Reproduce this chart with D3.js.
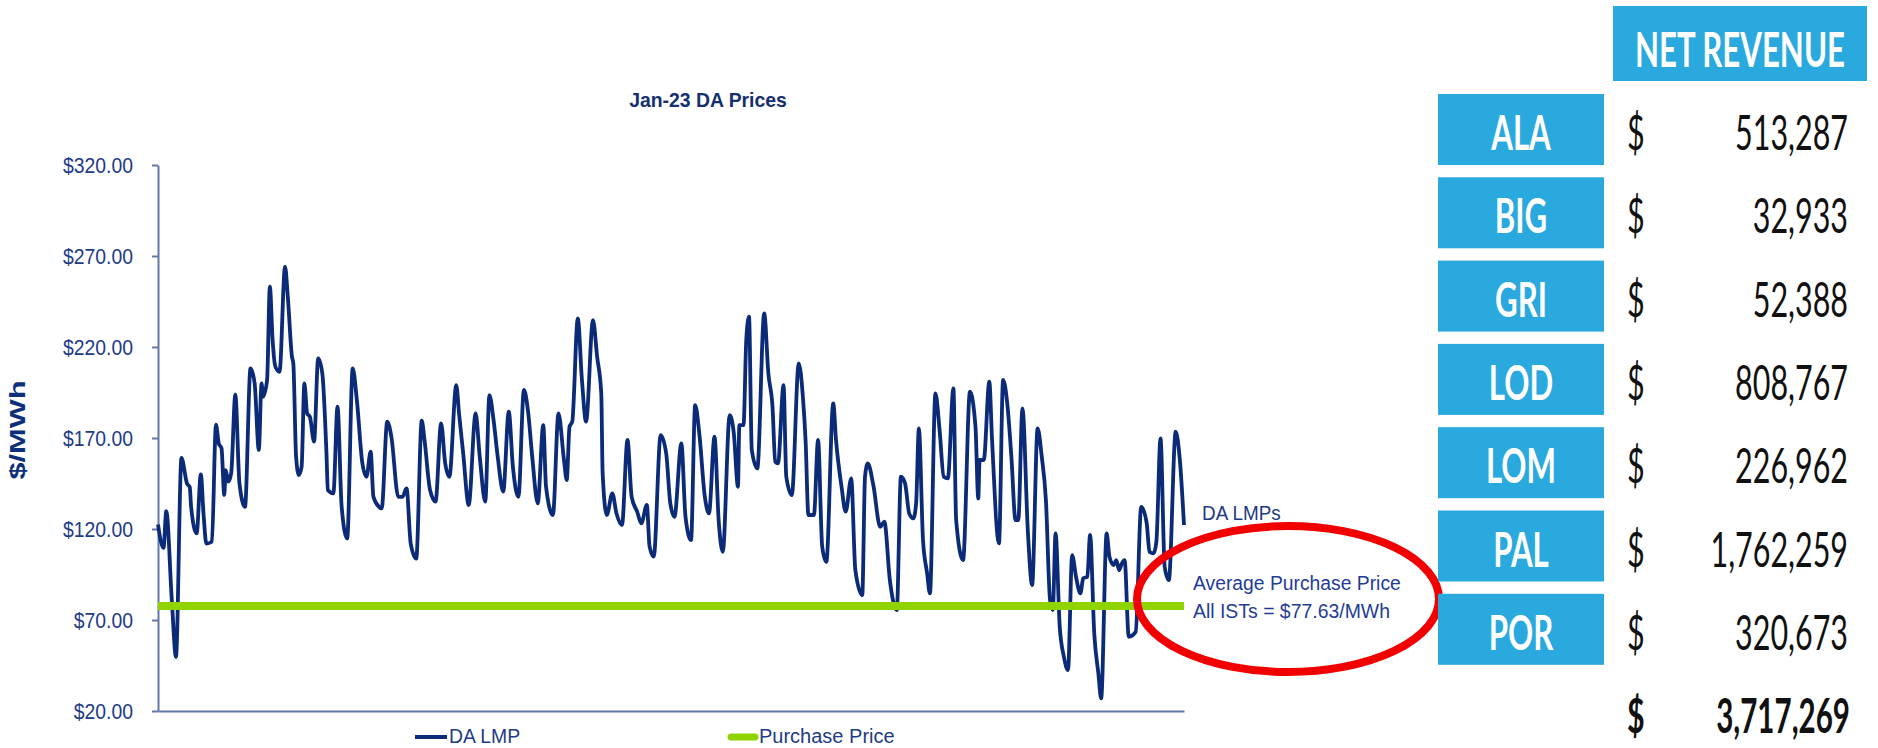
<!DOCTYPE html>
<html>
<head>
<meta charset="utf-8">
<script src="https://cdn.jsdelivr.net/npm/d3@7"></script>
<style>
  html, body { margin: 0; padding: 0; background: #ffffff; }
  svg { display: block; }
</style>
</head>
<body>
<svg id="chart" width="1878" height="748"></svg>
<script>
// Hour of the month (0 = Jan 1, 00:00) at each turning point of the day-ahead LMP trace
const hours = [
  0, 4, 6, 10, 13, 17, 21, 23, 24, 28, 31, 33, 35, 39, 42, 44, 46, 48, 49, 51,
  53, 56, 59, 63, 67, 70, 73, 75, 76, 79, 81, 83, 85, 88, 92, 94, 97, 98, 100, 102,
  104, 106, 108, 110, 113, 116, 119, 122, 123, 127, 130, 133, 137, 141, 144, 148, 151, 154, 156, 160,
  162, 166, 169, 174, 177, 180, 183, 187, 191, 193, 197, 201, 205, 208, 211, 216, 218, 221, 225, 230,
  233, 237, 240, 243, 246, 250, 254, 257, 261, 265, 268, 271, 275, 279, 281, 286, 290, 294, 296, 298,
  300, 304, 307, 310, 315, 318, 321, 322, 325, 329, 332, 336, 340, 343, 347, 350, 354, 356, 359, 364,
  368, 371, 374, 379, 382, 386, 389, 392, 396, 399, 403, 406, 409, 414, 417, 420, 421, 424, 426, 428,
  430, 434, 439, 442, 445, 447, 449, 453, 455, 459, 464, 467, 469, 471, 475, 478, 481, 484, 489, 491,
  495, 498, 502, 505, 510, 512, 514, 518, 523, 526, 530, 535, 538, 541, 544, 547, 549, 551, 554, 557,
  559, 563, 566, 569, 572, 576, 578, 583, 588, 592, 594, 595, 598, 602, 604, 609, 612, 615, 618, 621,
  623, 626, 630, 633, 637, 640, 643, 646, 648, 650, 653, 656, 659, 662, 665, 668, 670, 673, 675, 678,
  681, 683, 687, 689, 692, 694, 696, 698, 700, 703, 708, 712, 716, 718, 721, 723, 726, 729, 732, 737,
  740, 743
];

// DA LMP ($/MWh) at those hours
const daLmp = [
  122.5, 109.6, 129.8, 81.0, 49.8, 159.0, 145.0, 143.0, 132.0, 117.6, 150.0, 128.0, 112.0, 113.0, 177.4, 167.0, 164.3, 138.7, 152.4, 146.0,
  150.6, 193.8, 145.0, 132.2, 208.3, 200.0, 163.4, 200.0, 192.7, 201.9, 253.2, 223.8, 209.2, 206.4, 264.1, 247.7, 214.7, 211.0, 159.7, 149.6,
  154.2, 200.0, 183.5, 181.7, 168.0, 213.8, 205.5, 161.6, 141.4, 139.6, 187.2, 132.2, 114.8, 208.3, 190.9, 156.1, 148.7, 162.5, 137.7, 132.2,
  131.3, 179.0, 170.7, 137.7, 137.7, 142.3, 112.0, 103.8, 179.5, 168.9, 141.4, 135.0, 178.0, 156.0, 148.7, 199.1, 183.5, 161.6, 133.2, 183.5,
  159.7, 135.0, 193.6, 179.9, 159.7, 140.5, 184.5, 154.2, 137.7, 196.4, 184.5, 159.7, 134.1, 177.1, 143.2, 127.7, 183.5, 157.9, 146.9, 176.2,
  179.0, 235.7, 201.9, 179.0, 234.8, 214.7, 194.5, 150.6, 127.7, 139.6, 128.6, 122.2, 168.9, 137.7, 129.5, 123.1, 133.2, 110.3, 104.8, 171.6,
  161.6, 134.1, 126.7, 167.0, 126.7, 113.9, 188.1, 172.5, 137.7, 128.6, 170.7, 124.9, 107.5, 182.6, 172.5, 143.2, 177.1, 177.1, 223.8, 236.7,
  163.4, 153.3, 238.5, 205.5, 187.2, 157.0, 156.1, 199.1, 148.7, 138.6, 211.0, 192.7, 168.0, 127.7, 127.7, 168.9, 110.3, 102.0, 189.0, 168.9,
  143.2, 129.5, 147.8, 97.4, 83.7, 148.7, 156.1, 144.2, 121.2, 124.0, 91.9, 75.5, 148.7, 145.1, 128.6, 125.8, 134.1, 175.3, 113.9, 95.6,
  84.6, 194.5, 174.4, 148.7, 147.8, 197.3, 124.9, 102.9, 195.4, 176.2, 136.8, 157.9, 157.9, 201.0, 168.9, 112.1, 201.9, 189.0, 159.7, 124.9,
  124.9, 186.3, 117.6, 89.2, 175.3, 159.7, 135.9, 80.9, 75.5, 117.6, 66.3, 49.8, 42.5, 105.7, 92.9, 84.6, 92.9, 93.8, 116.7, 62.6,
  40.6, 26.9, 117.6, 104.8, 100.2, 102.9, 97.4, 101.1, 102.9, 60.8, 63.5, 132.2, 123.1, 107.5, 106.6, 113.0, 169.8, 99.3, 91.9, 173.5,
  157.9, 122.2
];

const purchasePrice = 77.63;
const yTicks = [20, 70, 120, 170, 220, 270, 320];
const hoursInMonth = 743;

const plants = ["ALA", "BIG", "GRI", "LOD", "LOM", "PAL", "POR"];
const netRevenue = [513287, 32933, 52388, 808767, 226962, 1762259, 320673];

const chartTitle = "Jan-23 DA Prices";
const yAxisTitle = "$/MWh";
const legendItems = ["DA LMP", "Purchase Price"];
const noteLines = ["Average Purchase Price", "All ISTs = $" + purchasePrice.toFixed(2) + "/MWh"];
const seriesLabel = "DA LMPs";
const tableHeader = "NET REVENUE";

// ---------- styling ----------
const NAVY = "#0b2a78";
const LABEL = "#1d3b86";
const NOTE = "#1f3c96";
const GREEN = "#8fd400";
const AXIS = "#6377aa";
const BOX = "#29a9dd";
const RED = "#f20000";
const ARIAL = "'Liberation Sans', Arial, sans-serif";
const TABLE_FONT = "Lato, 'Open Sans', sans-serif";

const svg = d3.select("#chart");
svg.append("rect").attr("width", 1878).attr("height", 748).attr("fill", "#fff");

// text placed at (x, y) and squeezed horizontally by sx
function label(parent, str, x, y, o) {
  return parent.append("text")
    .attr("transform", `translate(${x},${y}) scale(${o.sx || 1},${o.sy || 1})`)
    .attr("text-anchor", o.anchor || "start")
    .attr("font-family", o.family || ARIAL)
    .attr("font-size", o.size)
    .attr("font-weight", o.weight || 400)
    .attr("fill", o.fill)
    .text(str);
}

// squeeze a text so that it spans the given width
function fitWidth(t, width) {
  const sx = width / t.node().getComputedTextLength();
  t.attr("transform", t.attr("transform").replace(/scale\([^)]*\)/, `scale(${sx},1)`));
  return sx;
}

// ---------- line chart ----------
const plot = { left: 158, right: 1184, top: 165, bottom: 711 };
const x = d3.scaleLinear().domain([0, hoursInMonth]).range([plot.left, plot.right]);
const y = d3.scaleLinear().domain([20, 320]).range([plot.bottom, plot.top]);

label(svg, chartTitle, 708, 107, { size: 20, weight: 700, fill: "#14306e", sx: 0.97, anchor: "middle" });

svg.append("text")
  .attr("transform", "translate(25,430) rotate(-90) scale(1.4,1)")
  .attr("text-anchor", "middle")
  .attr("font-family", ARIAL).attr("font-size", 22).attr("font-weight", 700)
  .attr("fill", "#0e2f7a")
  .text(yAxisTitle);

const yAxis = svg.append("g")
  .attr("transform", `translate(${plot.left},0)`)
  .call(d3.axisLeft(y).tickValues(yTicks).tickSize(6).tickSizeOuter(0)
    .tickFormat(d => "$" + d3.format(".2f")(d)));
yAxis.select(".domain").attr("stroke", AXIS).attr("stroke-width", 2);
yAxis.selectAll(".tick line").attr("stroke", AXIS).attr("stroke-width", 2);
yAxis.selectAll(".tick text")
  .attr("x", null).attr("dy", "0.35em")
  .attr("transform", "translate(-25,0) scale(0.88,1)")
  .attr("font-family", ARIAL).attr("font-size", 22).attr("fill", LABEL);

const xAxis = svg.append("g")
  .attr("transform", `translate(0,${plot.bottom})`)
  .call(d3.axisBottom(x).tickValues([]).tickSizeOuter(0));
xAxis.select(".domain").attr("stroke", AXIS).attr("stroke-width", 2);

const points = hours.map((h, i) => [h, daLmp[i]]);
const lmpLine = d3.line().x(d => x(d[0])).y(d => y(d[1])).curve(d3.curveMonotoneX);

svg.append("path")
  .datum(points)
  .attr("d", lmpLine)
  .attr("fill", "none")
  .attr("stroke", NAVY)
  .attr("stroke-width", 3.8)
  .attr("stroke-linejoin", "round");

svg.append("line")
  .attr("x1", x(0)).attr("x2", x(hoursInMonth))
  .attr("y1", y(purchasePrice)).attr("y2", y(purchasePrice))
  .attr("stroke", GREEN).attr("stroke-width", 8);

// legend
svg.append("line").attr("x1", 415).attr("x2", 447).attr("y1", 737).attr("y2", 737)
  .attr("stroke", NAVY).attr("stroke-width", 4);
label(svg, legendItems[0], 449, 742.5, { size: 20, fill: LABEL, sx: 0.97 });
svg.append("line").attr("x1", 731).attr("x2", 755).attr("y1", 737).attr("y2", 737)
  .attr("stroke", GREEN).attr("stroke-width", 7).attr("stroke-linecap", "round");
label(svg, legendItems[1], 759, 742.5, { size: 20, fill: LABEL, sx: 1.0 });

// annotations
label(svg, seriesLabel, 1202, 519.5, { size: 21, fill: "#203a80", sx: 0.9 });
label(svg, noteLines[0], 1193, 589.5, { size: 21, fill: NOTE, sx: 0.92 });
label(svg, noteLines[1], 1193, 617.5, { size: 21, fill: NOTE, sx: 0.925 });

svg.append("ellipse")
  .attr("cx", 1288).attr("cy", 599).attr("rx", 151).attr("ry", 73)
  .attr("fill", "none").attr("stroke", RED).attr("stroke-width", 8);

// ---------- net revenue table ----------
const table = svg.append("g");
const rowTop = i => 94 + i * 83.3;
const TS = 47.5;

table.append("rect").attr("x", 1613).attr("y", 6).attr("width", 254).attr("height", 75).attr("fill", BOX);
const head = label(table, tableHeader, 1740, 67, { size: TS, weight: 700, fill: "#fff", family: TABLE_FONT, anchor: "middle" });
const headSx = fitWidth(head, 210);

const probe = label(table, d3.format(",")(netRevenue[0]), 0, 0, { size: TS, fill: "#111", family: TABLE_FONT });
const valueSx = 113 / probe.node().getComputedTextLength();
probe.remove();

plants.forEach((p, i) => {
  const t = rowTop(i);
  table.append("rect").attr("x", 1438).attr("y", t).attr("width", 166).attr("height", 71).attr("fill", BOX);
  label(table, p, 1521, t + 56, { size: TS, weight: 700, fill: "#fff", family: TABLE_FONT, anchor: "middle", sx: headSx });
  label(table, "$", 1627, t + 56, { size: TS, fill: "#111", family: TABLE_FONT, sx: valueSx });
  label(table, d3.format(",")(netRevenue[i]), 1848, t + 56, { size: TS, fill: "#111", family: TABLE_FONT, anchor: "end", sx: valueSx });
});

const totalTop = rowTop(plants.length);
label(table, "$", 1627, totalTop + 56, { size: TS, fill: "#111", family: TABLE_FONT, weight: 700, sx: valueSx });
label(table, d3.format(",")(d3.sum(netRevenue)), 1850, totalTop + 56,
  { size: TS, fill: "#111", family: TABLE_FONT, weight: 700, anchor: "end", sx: valueSx * 0.97 });
</script>
</body>
</html>
